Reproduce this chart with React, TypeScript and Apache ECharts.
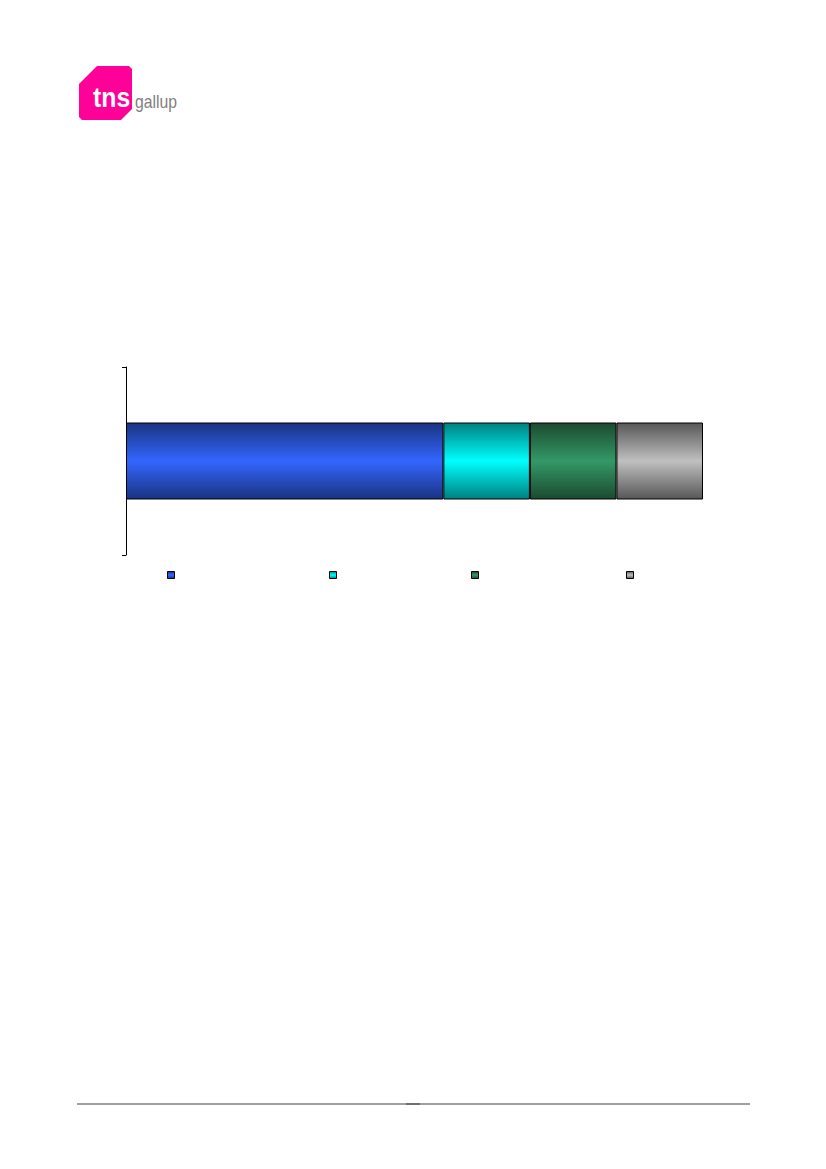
import React, { useEffect, useRef } from "react";
import * as echarts from "echarts";

const categories = [""];
const seriesNames = ["S1", "S2", "S3", "S4"];
const seriesValues = [[55], [15], [15], [15]];
const edgeColors = ["#1a3380", "#008080", "#1b4a30", "#575757"];
const centerColors = ["#3366ff", "#00ffff", "#339966", "#c0c0c0"];
const legendLefts = [167, 329, 471, 626];

function grad(edge: string, center: string) {
  return new echarts.graphic.LinearGradient(0, 0, 0, 1, [
    { offset: 0, color: edge },
    { offset: 0.5, color: center },
    { offset: 1, color: edge },
  ]);
}

export default function App() {
  const ref = useRef<HTMLDivElement>(null);
  useEffect(() => {
    if (!ref.current) return;
    const chart = echarts.init(ref.current, null, { renderer: "svg" });
    chart.setOption({
      animation: false,
      grid: { left: 126, right: 123, top: 367, bottom: 614, containLabel: false },
      xAxis: { type: "value", min: 0, max: 100, show: false },
      yAxis: {
        type: "category",
        data: categories,
        axisLine: { show: true, lineStyle: { color: "#000", width: 1 } },
        axisTick: { show: true, length: 4, lineStyle: { color: "#000", width: 1 } },
        axisLabel: { show: false },
        splitLine: { show: false },
      },
      legend: seriesNames.map((n, i) => ({
        data: [n],
        left: legendLefts[i],
        top: 571,
        itemWidth: 7,
        itemHeight: 7,
        itemGap: 0,
        padding: 0,
        icon: "rect",
        formatter: () => "",
        itemStyle: { borderColor: "#000", borderWidth: 1 },
        selectedMode: false,
      })),
      series: seriesNames.map((n, i) => ({
        name: n,
        type: "bar",
        stack: "total",
        barWidth: 77,
        data: seriesValues[i],
        itemStyle: {
          color: grad(edgeColors[i], centerColors[i]),
          borderColor: "#000",
          borderWidth: 1,
        },
        emphasis: { disabled: true },
      })),
      graphic: [
        {
          type: "polygon",
          shape: {
            points: [
              [79, 84], [97, 66], [129, 66], [132, 69], [132, 109],
              [121, 120], [82, 120], [79, 117],
            ],
          },
          style: { fill: "#ff0099" },
        },
        {
          type: "text",
          x: 93,
          y: 111,
          scaleX: 0.92,
          style: {
            text: "tns",
            fill: "#ffffff",
            font: "bold 27px 'Liberation Sans', Arial, sans-serif",
            verticalAlign: "bottom",
          },
        },
        {
          type: "text",
          x: 135,
          y: 111,
          scaleX: 0.83,
          style: {
            text: "gallup",
            fill: "#808080",
            font: "19px 'Liberation Sans', Arial, sans-serif",
            verticalAlign: "bottom",
          },
        },
        {
          type: "line",
          shape: { x1: 77, y1: 1104, x2: 750, y2: 1104 },
          style: { stroke: "#a0a0a0", lineWidth: 2 },
        },
        {
          type: "line",
          shape: { x1: 406, y1: 1104, x2: 420, y2: 1104 },
          style: { stroke: "#707070", lineWidth: 2 },
        },
      ],
    });
    return () => chart.dispose();
  }, []);
  return (
    <div
      ref={ref}
      style={{ position: "absolute", left: 0, top: 0, width: 826, height: 1169 }}
    />
  );
}
